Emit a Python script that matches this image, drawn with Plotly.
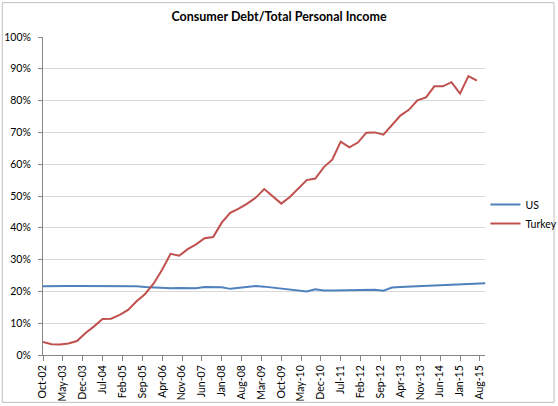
import pandas as pd
import plotly.graph_objects as go

# quarterly observations, first quarter Oct-02
dates = pd.date_range("2002-10-01", periods=53, freq="3MS")

us = [21.6, 21.7, 21.8, 21.7, 21.7, 21.7, 21.7, 21.6, 21.6, 21.5,
      21.7, 21.6, 21.4, 21.2, 21.2, 21.0, 21.1, 21.1, 21.0, 21.4,
      21.3, 21.3, 20.8, 21.1, 21.3, 21.7, 21.5, 21.2, 21.0, 20.7,
      20.4, 20.0, 20.7, 20.3, 20.3, 20.3, 20.4, 20.3, 20.4, 20.5,
      20.2, 21.2, 21.4, 21.5, 21.6, 21.7, 21.8, 21.9, 22.1, 22.2,
      22.4, 22.5, 22.6]

turkey = [4.1, 3.4, 3.3, 3.6, 4.4, 6.9, 9.0, 11.3, 11.4, 12.6,
          14.2, 16.9, 19.2, 22.5, 26.8, 31.8, 31.2, 33.3, 34.8, 36.7,
          37.1, 41.6, 44.7, 46.0, 47.6, 49.5, 52.2, 49.9, 47.6, 49.7,
          52.2, 55.0, 55.5, 59.1, 61.4, 67.1, 65.3, 66.8, 69.9, 70.0,
          69.3, 72.3, 75.3, 77.1, 80.1, 81.0, 84.5, 84.5, 85.8, 82.2,
          87.7, 86.3]

font = "Lato"

fig = go.Figure()
fig.add_trace(go.Scatter(x=dates, y=[v / 100 for v in us], name="US",
                         mode="lines", line=dict(color="#4F81BD", width=2)))
fig.add_trace(go.Scatter(x=dates[:len(turkey)], y=[v / 100 for v in turkey],
                         name="Turkey", mode="lines",
                         line=dict(color="#C0504D", width=2)))

fig.update_layout(
    width=558, height=406,
    margin=dict(l=43, r=72, t=37, b=51),
    paper_bgcolor="white", plot_bgcolor="white",
    font=dict(family=font, size=10.5, color="#000000"),
    title=dict(text="<b>Consumer Debt/Total Personal Income</b>",
               x=0.5, xanchor="center", y=0.958, yanchor="middle",
               font=dict(family=font, size=12.5, color="#000000")),
    showlegend=True,
    legend=dict(xref="container", yref="container",
                x=0.87, y=0.473, xanchor="left", yanchor="middle",
                bgcolor="rgba(0,0,0,0)", font=dict(size=10.5),
                itemwidth=30, tracegroupgap=2),
    xaxis=dict(type="date", range=["2002-10-01", "2015-10-01"],
               tick0="2002-10-01", dtick="M7", tickformat="%b-%y",
               tickangle=-90, ticks="outside", ticklen=5, tickcolor="#868686",
               showgrid=False, showline=True, linecolor="#868686",
               linewidth=1, zeroline=False, automargin=False),
    yaxis=dict(range=[0, 1], dtick=0.1, tickformat=".0%",
               ticks="outside", ticklen=4, tickcolor="#868686",
               ticklabelstandoff=5, automargin=False,
               showgrid=True, gridcolor="#D9D9D9", gridwidth=1,
               showline=True, linecolor="#868686", linewidth=1,
               zeroline=False),
    shapes=[dict(type="rect", xref="paper", yref="paper",
                 x0=-0.092, x1=1.155, y0=-0.149, y1=1.108,
                 line=dict(color="#BFBFBF", width=1))],
)

# page body has a default 8px margin; drop it so the figure sits at 0,0
fig.write_html("out.html", config={"displayModeBar": False},
               post_script="document.body.style.margin='0';")
